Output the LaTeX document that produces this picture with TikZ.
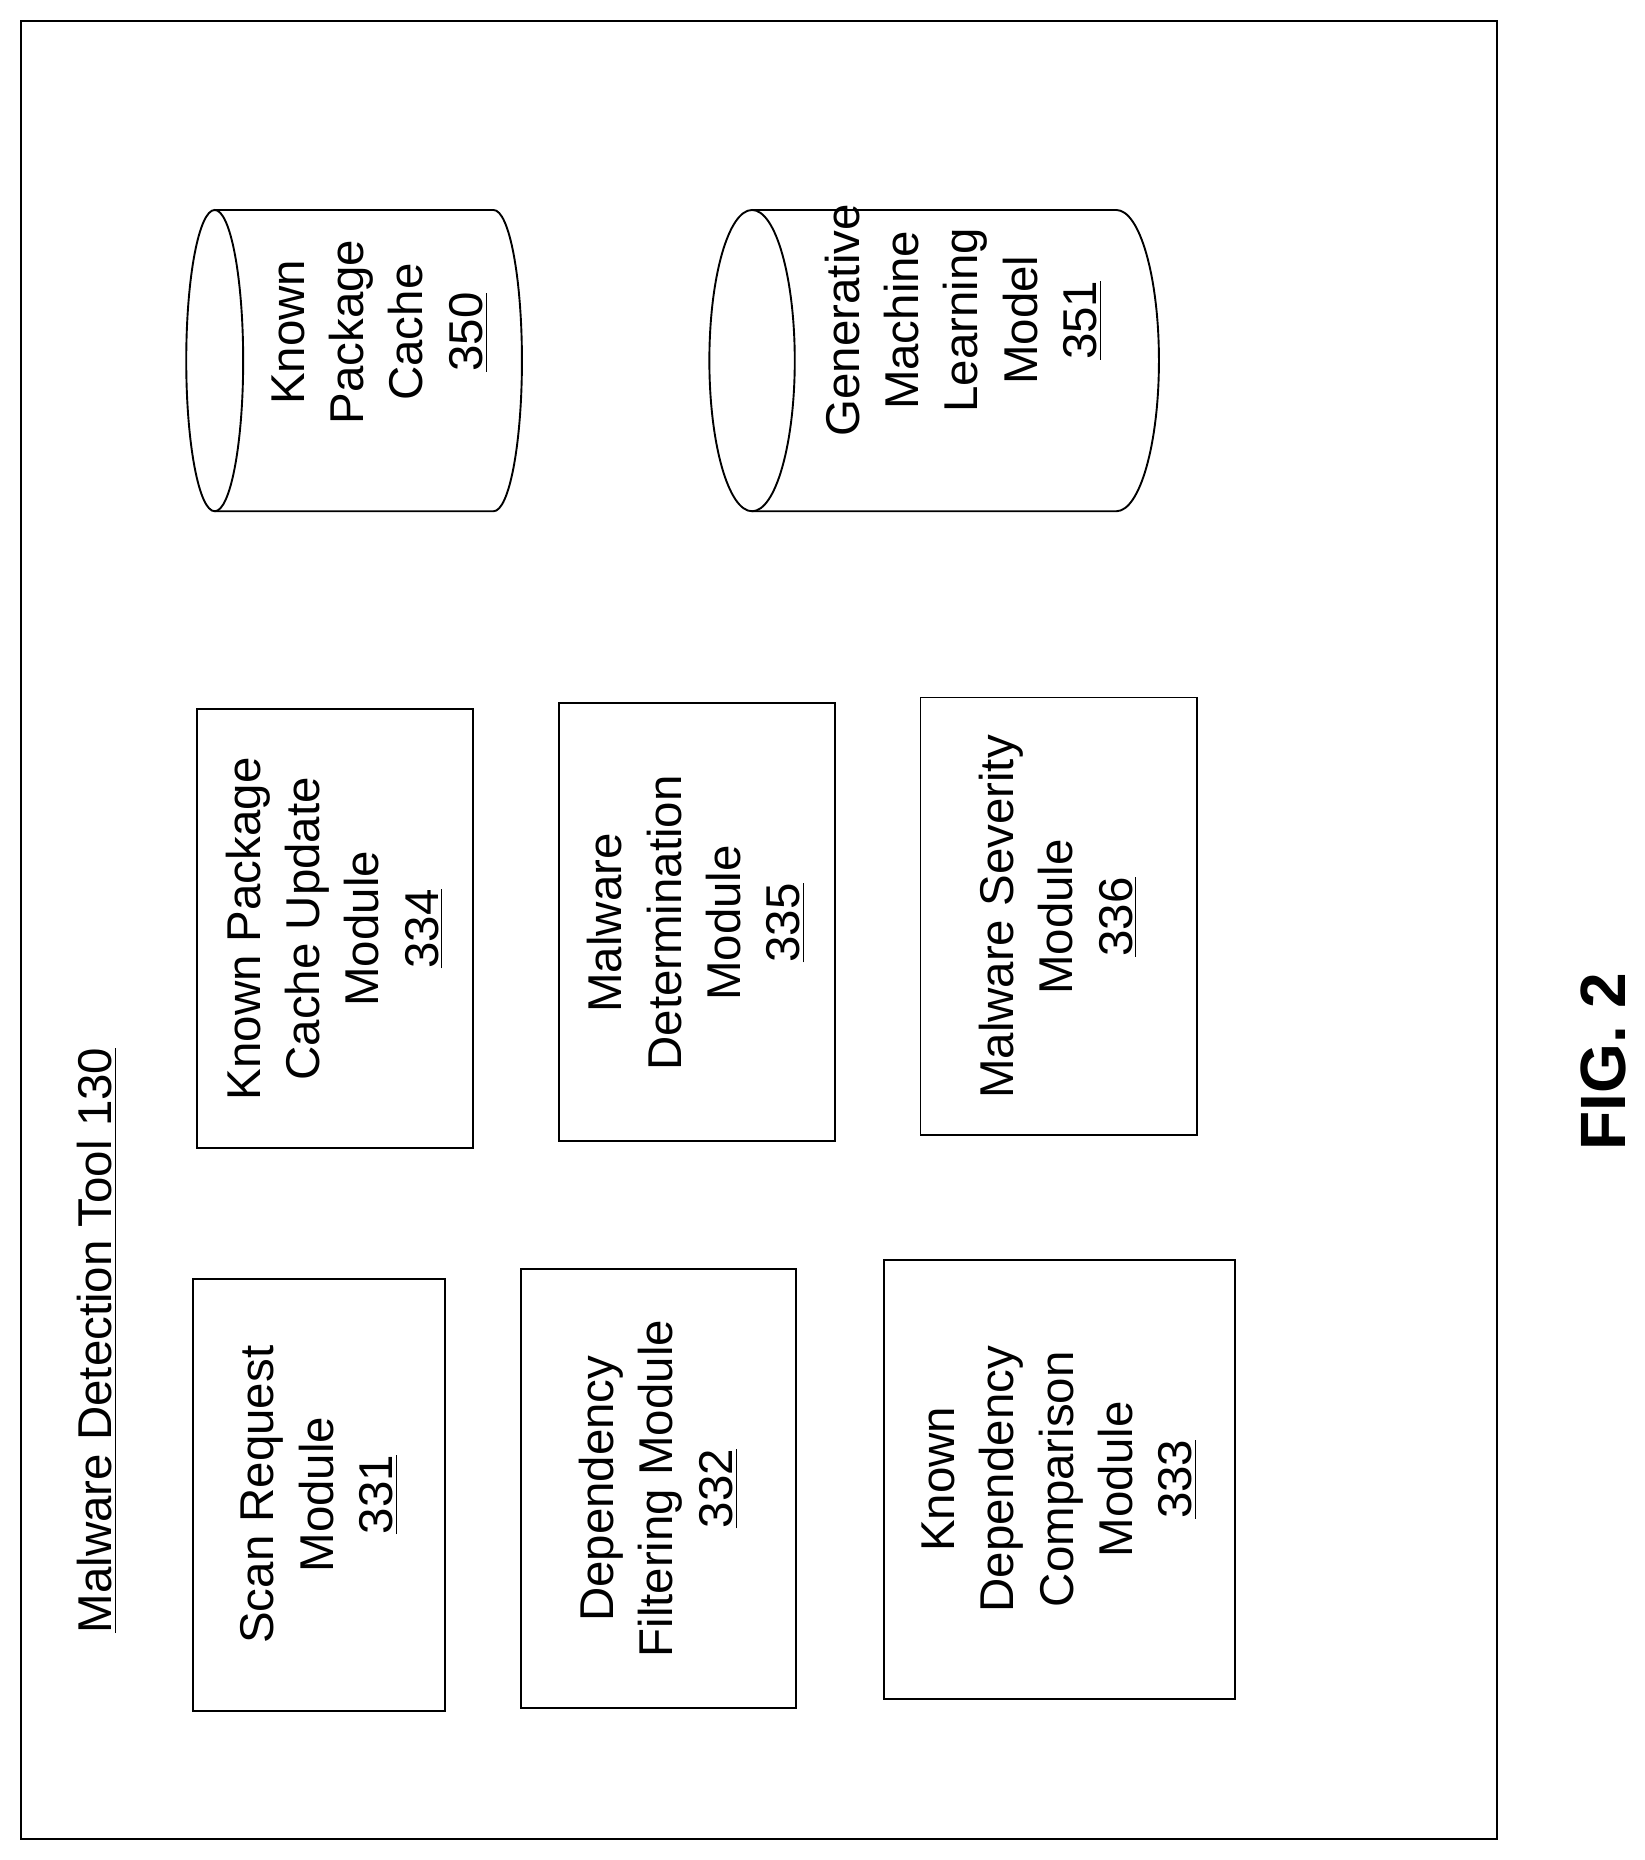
\documentclass[tikz,border=0pt]{standalone}
\usepackage{fontspec}
\setmainfont{Liberation Sans}
\begin{document}
\begin{tikzpicture}[x=0.5pt,y=-0.5pt,line width=1.1pt,
  box/.style={draw,thick},
  lbl/.style={rotate=90,align=center,font=\fontsize{20}{25}\selectfont}]
\useasboundingbox (0,0) rectangle (1386,1568);
\draw[thick] (18,18) rectangle (1262,1550);
\node[rotate=90,font=\fontsize{20}{25}\selectfont] (title) at (82,1130) {\underline{Malware Detection Tool 130}};
\draw[box] (163,1078) rectangle (375,1442); \node[lbl] (b331) at (269,1260) {Scan Request\\Module\\\underline{331}};
\draw[box] (439,1070) rectangle (671,1440); \node[lbl] (b332) at (555,1255) {Dependency\\Filtering Module\\\underline{332}};
\draw[box] (745,1062) rectangle (1041,1432); \node[lbl] (b333) at (893,1247) {Known\\Dependency\\Comparison\\Module\\\underline{333}};
\draw[box] (166,598) rectangle (399,968); \node[lbl] (b334) at (282,783) {Known Package\\Cache Update\\Module\\\underline{334}};
\draw[box] (471,593) rectangle (704,962); \node[lbl] (b335) at (587,778) {Malware\\Determination\\Module\\\underline{335}};
\draw[box] (776,588) rectangle (1009,957); \node[lbl] (b336) at (892,773) {Malware Severity\\Module\\\underline{336}};
% cylinders
\draw[thick] (181,304) ellipse [x radius=24, y radius=127];
\draw[thick] (181,177) -- (416,177) arc[start angle=-90,end angle=90,x radius=24,y radius=127] -- (181,431);
\node[lbl] (c350) at (320,280) {Known\\Package\\Cache\\\underline{350}};
\draw[thick] (634,304) ellipse [x radius=36, y radius=127];
\draw[thick] (634,177) -- (941,177) arc[start angle=-90,end angle=90,x radius=36,y radius=127] -- (634,431);
\node[lbl] (c351) at (812,270) {Generative\\Machine\\Learning\\Model\\\underline{351}};
\node[rotate=90,font=\fontsize{27}{30}\selectfont\bfseries] (fig) at (1352,895) {FIG. 2};
\end{tikzpicture}
\end{document}
